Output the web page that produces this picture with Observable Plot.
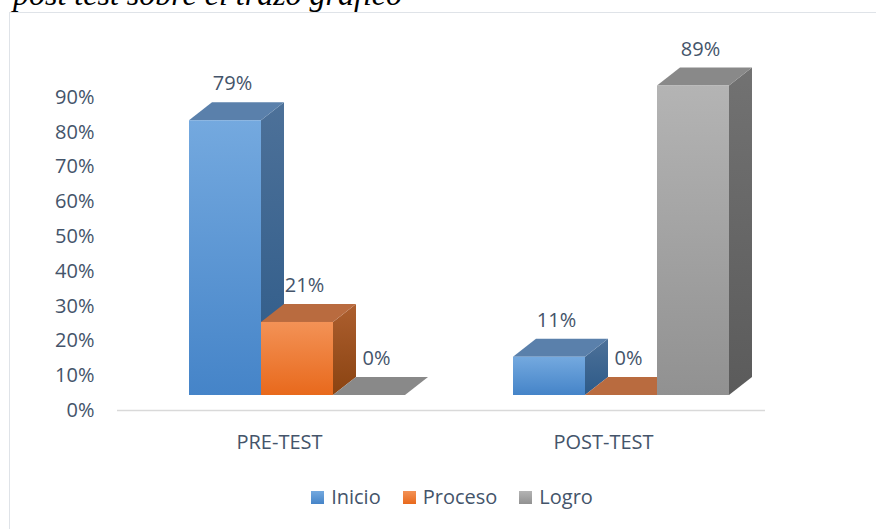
<!DOCTYPE html>
<html>
<head>
<meta charset="utf-8">
<script src="https://cdn.jsdelivr.net/npm/d3@7"></script>
<script src="https://cdn.jsdelivr.net/npm/@observablehq/plot@0.6"></script>
<style>
  body { margin: 0; background: #fff; }
  #wrap { position: relative; width: 876px; height: 529px; overflow: hidden; font-family: "Open Sans", sans-serif; }
  #frame { position: absolute; left: 9px; top: 12px; width: 900px; height: 600px; border: 1.5px solid #dfe3e8; box-sizing: border-box; }
  #title { position: absolute; left: 13px; top: -22px; font: italic 32px/32px "Liberation Serif", "Times New Roman", serif; color: #000; white-space: nowrap; }
  #chart { position: absolute; left: 0; top: 0; }
  #legend { position: absolute; left: 0; top: 484px; width: 876px; padding-left: 28px; box-sizing: border-box; display: flex; justify-content: center; align-items: center; font-size: 20px; color: #44546a; line-height: 26px; }
  .item { display: flex; align-items: center; margin: 0 11px; }
  .sw { width: 13px; height: 13px; margin-right: 7px; }
</style>
</head>
<body>
<div id="wrap">
  <div id="frame"></div>
  <div id="title">post test sobre el trazo gráfico</div>
  <div id="chart"></div>
  <div id="legend"></div>
</div>
<script>
// ---- data ----
const groups = ["PRE-TEST", "POST-TEST"];
const series = ["Inicio", "Proceso", "Logro"];
const inicio = [79, 11];
const proceso = [21, 0];
const logro = [0, 89];
const yTicks = [0, 10, 20, 30, 40, 50, 60, 70, 80, 90];

// ---- styling ----
const frontStops = [["#74a9df", "#4584c8"], ["#f39256", "#e8691c"], ["#b4b4b4", "#919191"]];
const sideStops = [["#4d7199", "#2d5a88"], ["#ad5f2f", "#8a4311"], ["#727272", "#5b5b5b"]];
const topColors = ["#5a80ab", "#b96b3f", "#898989"];
const textColor = "#44546a";

const seriesValues = [inicio, proceso, logro];
const W = 72 / 324, OFF = 18 / 324, DX = 23 / 324, DY = 18 / 3.478, LIFT = 10.6;

const rows = [];
series.forEach((s, si) => groups.forEach((g, gi) => {
  const v = seriesValues[si][gi];
  const xl = gi + OFF + (si - 1.5) * W;
  rows.push({series: s, si, group: g, gi, v, y0: 0, xl, xr: xl + W, xc: xl + W / 2});
}));

const marks = [Plot.ruleY([0], {stroke: "#d9d9d9", strokeWidth: 1.5})];
series.forEach((s, si) => {
  const r = rows.filter(d => d.si === si);
  const side = r.flatMap(d => [
    {id: d.gi, x: d.xr, y1: 0, y2: d.v},
    {id: d.gi, x: d.xr + DX, y1: DY, y2: d.v + DY}
  ]);
  const top = r.flatMap(d => [
    {id: d.gi, x: d.xl, y1: d.v, y2: d.v},
    {id: d.gi, x: d.xl + DX, y1: d.v, y2: d.v + DY},
    {id: d.gi, x: d.xr, y1: d.v, y2: d.v + DY},
    {id: d.gi, x: d.xr + DX, y1: d.v + DY, y2: d.v + DY}
  ]);
  marks.push(Plot.area(side, {x1: "x", y1: "y1", y2: "y2", z: "id", fill: `url(#side${si})`, dy: -15, curve: "linear"}));
  marks.push(Plot.area(top, {x1: "x", y1: "y1", y2: "y2", z: "id", fill: topColors[si], dy: -15, curve: "linear"}));
  marks.push(Plot.rect(r, {x1: "xl", x2: "xr", y1: "y0", y2: "v", fill: `url(#front${si})`, dy: -15}));
});
marks.push(Plot.text(rows, {x: "xc", y: d => d.v + LIFT, text: d => d.v + "%", dy: -15, dx: 7, fontSize: 20, fill: textColor}));

const svg = Plot.plot({
  width: 876,
  height: 470,
  marginTop: 97,
  marginBottom: 60,
  marginLeft: 117,
  marginRight: 111,
  style: {fontFamily: '"Open Sans", sans-serif', fontSize: "20px", color: textColor, background: "transparent", overflow: "visible"},
  x: {domain: [-0.5, 1.5], ticks: [0, 1], tickFormat: i => groups[i], tickSize: 0, tickPadding: 24, label: null},
  y: {domain: [0, 90], ticks: yTicks, tickFormat: d => d + "%", tickSize: 0, tickPadding: 23, label: null},
  marks
});

const defs = d3.select(svg).insert("defs", ":first-child");
function grad(id, stops) {
  const g = defs.append("linearGradient").attr("id", id).attr("x1", 0).attr("y1", 0).attr("x2", 0).attr("y2", 1);
  g.append("stop").attr("offset", "0%").attr("stop-color", stops[0]);
  g.append("stop").attr("offset", "100%").attr("stop-color", stops[1]);
}
frontStops.forEach((s, i) => grad(`front${i}`, s));
sideStops.forEach((s, i) => grad(`side${i}`, s));

document.getElementById("chart").appendChild(svg);

const legend = d3.select("#legend");
series.forEach((s, i) => {
  const it = legend.append("div").attr("class", "item");
  it.append("div").attr("class", "sw").style("background", `linear-gradient(${frontStops[i][0]}, ${frontStops[i][1]})`);
  it.append("span").text(s);
});
</script>
</body>
</html>
